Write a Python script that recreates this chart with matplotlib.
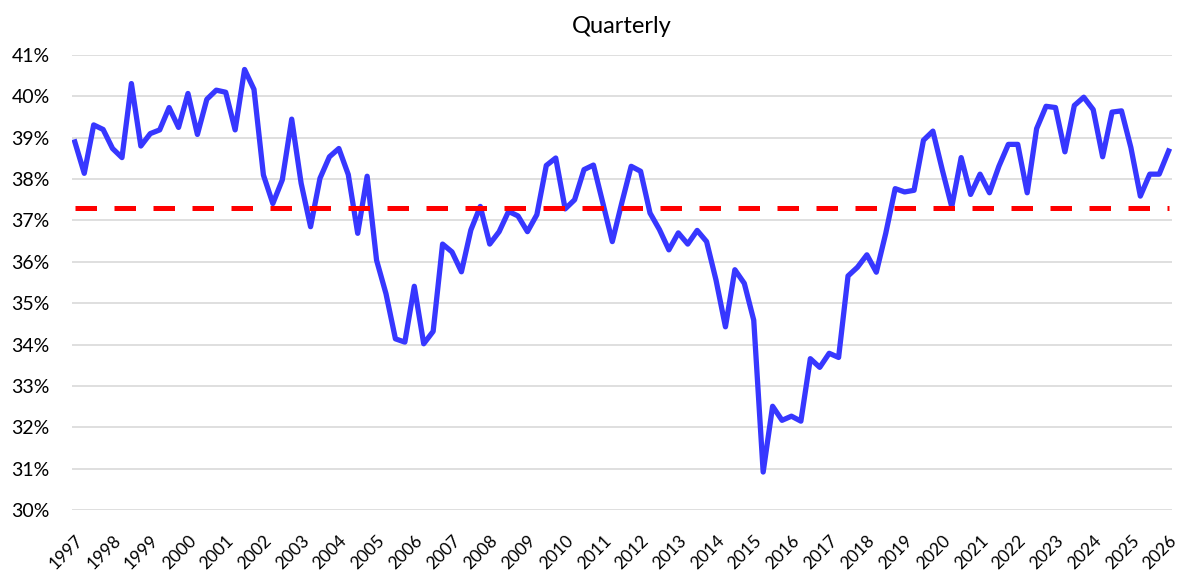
import matplotlib
matplotlib.use('Agg')
import matplotlib.pyplot as plt
from matplotlib.ticker import FuncFormatter

plt.rcParams['font.family'] = ['Lato', 'DejaVu Sans']

# quarterly values, 1997 Q1 .. 2026 Q1 (percent)
values = [
    38.90, 38.14, 39.31, 39.20, 38.74, 38.52, 40.31, 38.80,
    39.10, 39.19, 39.73, 39.25, 40.07, 39.08, 39.93, 40.15,
    40.10, 39.19, 40.65, 40.17, 38.10, 37.41, 37.98, 39.45,
    37.90, 36.85, 38.02, 38.54, 38.74, 38.11, 36.69, 38.07,
    36.04, 35.23, 34.14, 34.06, 35.41, 34.02, 34.32, 36.43,
    36.24, 35.76, 36.77, 37.34, 36.43, 36.73, 37.22, 37.11,
    36.73, 37.14, 38.33, 38.51, 37.28, 37.50, 38.23, 38.34,
    37.42, 36.49, 37.42, 38.31, 38.19, 37.18, 36.78, 36.29,
    36.70, 36.43, 36.76, 36.49, 35.56, 34.43, 35.81, 35.48,
    34.59, 30.92, 32.51, 32.17, 32.27, 32.15, 33.66, 33.45,
    33.79, 33.69, 35.66, 35.87, 36.17, 35.75, 36.69, 37.77,
    37.69, 37.73, 38.94, 39.16, 38.22, 37.33, 38.52, 37.63,
    38.12, 37.67, 38.31, 38.84, 38.84, 37.67, 39.22, 39.76,
    39.73, 38.66, 39.78, 39.98, 39.68, 38.54, 39.62, 39.65,
    38.76, 37.59, 38.12, 38.12, 38.68,
]
average = 37.3
years = list(range(1997, 2027))

fig = plt.figure(figsize=(12, 5.79), dpi=100)
ax = fig.add_axes([0.06, 0.119, 0.917, 0.786])

x = list(range(len(values)))
ax.plot(x, values, color='#3737FF', lw=3.8, solid_joinstyle='round', zorder=3)
ax.plot([x[0], x[-1]], [average, average], color='#FF0000', lw=3.6,
        dashes=(4.3, 3.5), dash_capstyle='butt', zorder=4)

ax.set_ylim(30, 41)
ax.set_yticks(range(30, 42))
ax.yaxis.set_major_formatter(FuncFormatter(lambda v, p: '%d%%' % v))
ax.set_xlim(-0.3, len(values) - 0.6)
ax.set_xticks([4 * i for i in range(len(years))])
ax.set_xticklabels([str(y) for y in years], rotation=45, ha='right',
                   rotation_mode='anchor')

ax.grid(axis='y', color='#D9D9D9', lw=1.2)
ax.set_axisbelow(True)
for s in ax.spines.values():
    s.set_visible(False)
ax.tick_params(axis='y', length=0, labelsize=14, pad=16)
ax.tick_params(axis='x', length=0, labelsize=12.5, pad=16)

ax.set_title('Quarterly', fontsize=17, pad=16)

fig.savefig('out.png', dpi=100)
